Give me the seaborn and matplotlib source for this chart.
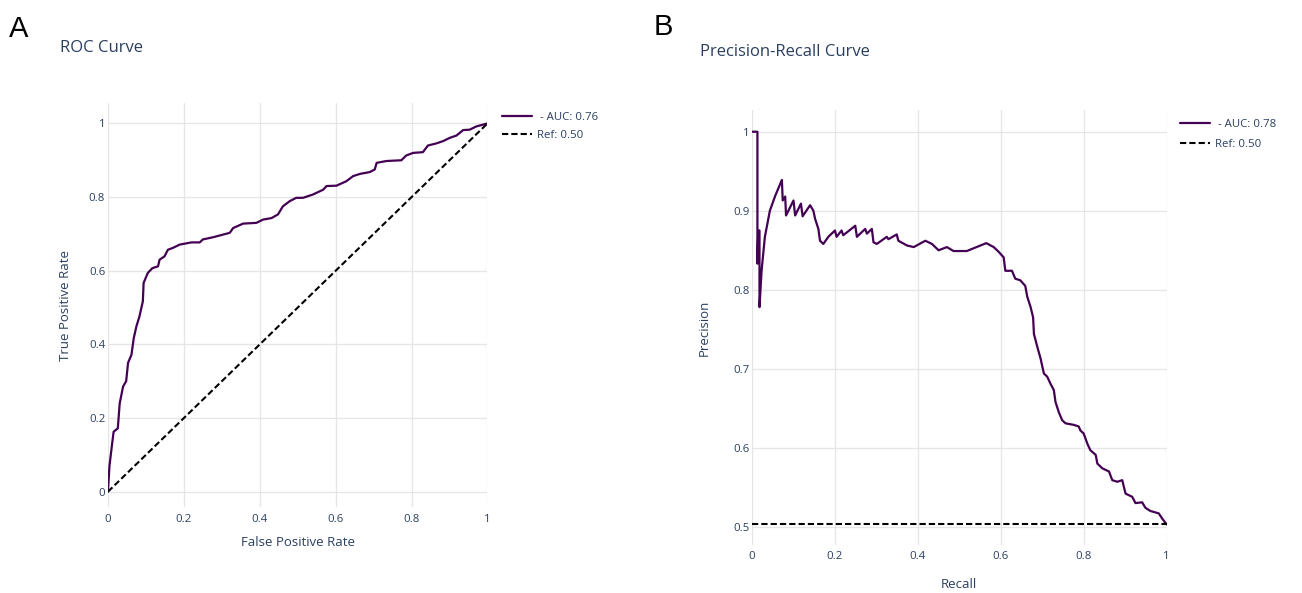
import matplotlib
matplotlib.use("Agg")
import matplotlib.pyplot as plt
import seaborn as sns
import pandas as pd

# ---------------- data ----------------
roc_fpr = [0.0, 0.004, 0.011, 0.015, 0.026, 0.031, 0.04, 0.048, 0.053, 0.062, 0.068, 0.075,
           0.083, 0.092, 0.094, 0.105, 0.117, 0.132, 0.136, 0.149, 0.158, 0.171, 0.189, 0.22,
           0.242, 0.25, 0.277, 0.321, 0.33, 0.356, 0.391, 0.409, 0.431, 0.448, 0.461, 0.479,
           0.496, 0.514, 0.54, 0.567, 0.576, 0.602, 0.628, 0.646, 0.664, 0.69, 0.703, 0.708,
           0.734, 0.773, 0.786, 0.804, 0.83, 0.843, 0.866, 0.883, 0.901, 0.918, 0.936, 0.953,
           0.971, 1.0]
roc_tpr = [0.0, 0.07, 0.13, 0.163, 0.172, 0.24, 0.286, 0.30, 0.35, 0.372, 0.417, 0.449,
           0.476, 0.517, 0.567, 0.594, 0.607, 0.612, 0.63, 0.639, 0.657, 0.662, 0.671, 0.677,
           0.677, 0.685, 0.691, 0.703, 0.716, 0.728, 0.73, 0.739, 0.743, 0.753, 0.775, 0.789,
           0.798, 0.798, 0.807, 0.82, 0.83, 0.831, 0.843, 0.857, 0.863, 0.868, 0.875, 0.893,
           0.898, 0.9, 0.913, 0.92, 0.922, 0.94, 0.946, 0.952, 0.961, 0.967, 0.982, 0.983,
           0.992, 1.0]
roc_ref_x = [0.0, 1.0]
roc_ref_y = [0.0, 1.0]

pr_recall = [0.0, 0.013, 0.013, 0.015, 0.018, 0.018, 0.023, 0.031, 0.043, 0.056, 0.072,
             0.074, 0.08, 0.082, 0.1, 0.104, 0.118, 0.122, 0.14, 0.148, 0.152, 0.16, 0.164,
             0.172, 0.184, 0.2, 0.204, 0.216, 0.22, 0.249, 0.253, 0.273, 0.277, 0.289, 0.293,
             0.301, 0.325, 0.329, 0.349, 0.353, 0.374, 0.39, 0.418, 0.434, 0.45, 0.47, 0.486,
             0.518, 0.565, 0.583, 0.595, 0.607, 0.611, 0.627, 0.635, 0.647, 0.659, 0.664,
             0.672, 0.678, 0.68, 0.688, 0.696, 0.704, 0.712, 0.72, 0.728, 0.732, 0.74, 0.748,
             0.756, 0.776, 0.788, 0.792, 0.8, 0.809, 0.816, 0.829, 0.833, 0.845, 0.861, 0.869,
             0.881, 0.893, 0.901, 0.917, 0.925, 0.941, 0.949, 0.961, 0.981, 0.99, 1.0]
pr_precision = [1.0, 1.0, 0.833, 0.875, 0.875, 0.778, 0.824, 0.867, 0.9, 0.919, 0.939,
                0.913, 0.918, 0.894, 0.913, 0.894, 0.909, 0.893, 0.907, 0.9, 0.89, 0.877, 0.862,
                0.858, 0.867, 0.875, 0.867, 0.875, 0.869, 0.881, 0.867, 0.877, 0.871, 0.877, 0.86,
                0.858, 0.867, 0.864, 0.87, 0.862, 0.856, 0.854, 0.862, 0.858, 0.85, 0.854, 0.849,
                0.849, 0.859, 0.854, 0.848, 0.841, 0.824, 0.824, 0.814, 0.812, 0.805, 0.791,
                0.778, 0.765, 0.744, 0.728, 0.713, 0.694, 0.69, 0.681, 0.673, 0.658, 0.645, 0.635,
                0.631, 0.629, 0.627, 0.622, 0.618, 0.605, 0.597, 0.591, 0.58, 0.574, 0.57, 0.559,
                0.557, 0.559, 0.542, 0.538, 0.53, 0.531, 0.524, 0.52, 0.517, 0.51, 0.503]
pr_ref_x = [0.0, 1.0]
pr_ref_y = [0.503, 0.503]

roc_label = " - AUC: 0.76"
pr_label = " - AUC: 0.78"
ref_label = "Ref: 0.50"
ticks_x = [0, 0.2, 0.4, 0.6, 0.8, 1]
ticks_x_labels = ["0", "0.2", "0.4", "0.6", "0.8", "1"]
roc_ticks_y = [0, 0.2, 0.4, 0.6, 0.8, 1]
roc_ticks_y_labels = ["0", "0.2", "0.4", "0.6", "0.8", "1"]
pr_ticks_y = [0.5, 0.6, 0.7, 0.8, 0.9, 1]
pr_ticks_y_labels = ["0.5", "0.6", "0.7", "0.8", "0.9", "1"]

# ---------------- style ----------------
sns.set_theme(style="white")
plt.rcParams["font.family"] = ["Open Sans", "DejaVu Sans"]
plt.rcParams["lines.scale_dashes"] = False

TXT = "#2a3f5f"
GRID = "#e6e6e6"
CURVE = "#440154"

fig = plt.figure(figsize=(13.02, 5.93), dpi=100)
ax1 = fig.add_axes([0.0829, 0.145, 0.2915, 0.681])
ax2 = fig.add_axes([0.5776, 0.081, 0.3184, 0.7335])


def style_axis(ax, yticks, ylabels, xpad, ypad):
    ax.set_xticks(ticks_x)
    ax.set_xticklabels(ticks_x_labels)
    ax.set_yticks(yticks)
    ax.set_yticklabels(ylabels)
    ax.tick_params(axis="x", length=0, pad=xpad, labelsize=8.2, labelcolor=TXT)
    ax.tick_params(axis="y", length=0, pad=ypad, labelsize=8.2, labelcolor=TXT)
    for s in ax.spines.values():
        s.set_visible(False)
    ax.grid(True, color=GRID, linewidth=1.0)
    ax.set_axisbelow(True)


# ROC
sns.lineplot(x=roc_fpr, y=roc_tpr, ax=ax1, sort=False, estimator=None,
             color=CURVE, linewidth=1.6, label=roc_label)
sns.lineplot(x=roc_ref_x, y=roc_ref_y, ax=ax1, sort=False, estimator=None,
             color="black", linewidth=1.5, label=ref_label)
ax1.lines[-1].set_dashes([4.5, 2.2])
ax1.set_xlim(0, 1)
ax1.set_ylim(-0.0415, 1.055)
style_axis(ax1, roc_ticks_y, roc_ticks_y_labels, 5, 2)
ax1.set_xlabel("False Positive Rate", fontsize=9.5, color=TXT, labelpad=8)
ax1.set_ylabel("True Positive Rate", fontsize=9.5, color=TXT, labelpad=12)
leg1 = ax1.legend(loc="upper left", bbox_to_anchor=(502 / 1302, 1 - 112 / 593),
                  bbox_transform=fig.transFigure, frameon=False, fontsize=8.2,
                  handlelength=2.6, handletextpad=0.5, labelspacing=0.6,
                  borderaxespad=0, borderpad=0)
for t in leg1.get_texts():
    t.set_color(TXT)

# PR
sns.lineplot(x=pr_recall, y=pr_precision, ax=ax2, sort=False, estimator=None,
             color=CURVE, linewidth=1.6, label=pr_label)
sns.lineplot(x=pr_ref_x, y=pr_ref_y, ax=ax2, sort=False, estimator=None,
             color="black", linewidth=1.5, label=ref_label)
ax2.lines[-1].set_dashes([4.5, 2.2])
ax2.set_xlim(0, 1)
ax2.set_ylim(0.477, 1.0275)
style_axis(ax2, pr_ticks_y, pr_ticks_y_labels, 4, 2)
ax2.set_xlabel("Recall", fontsize=9.5, color=TXT, labelpad=12)
ax2.set_ylabel("Precision", fontsize=9.5, color=TXT, labelpad=16)
leg2 = ax2.legend(loc="upper left", bbox_to_anchor=(1180 / 1302, 1 - 119 / 593),
                  bbox_transform=fig.transFigure, frameon=False, fontsize=8.2,
                  handlelength=2.6, handletextpad=0.5, labelspacing=0.8,
                  borderaxespad=0, borderpad=0)
for t in leg2.get_texts():
    t.set_color(TXT)

# titles and panel letters
fig.text(60 / 1302, 1 - 48 / 593, "ROC Curve", fontsize=12, color=TXT, va="center", ha="left")
fig.text(700 / 1302, 1 - 52 / 593, "Precision-Recall Curve", fontsize=12, color=TXT,
         va="center", ha="left")
fig.text(9 / 1302, 1 - 29 / 593, "A", fontsize=21, color="black", va="center", ha="left",
         family=["Liberation Sans", "DejaVu Sans"])
fig.text(654 / 1302, 1 - 27 / 593, "B", fontsize=21, color="black", va="center", ha="left",
         family=["Liberation Sans", "DejaVu Sans"])

fig.savefig("out.png", dpi=100)
